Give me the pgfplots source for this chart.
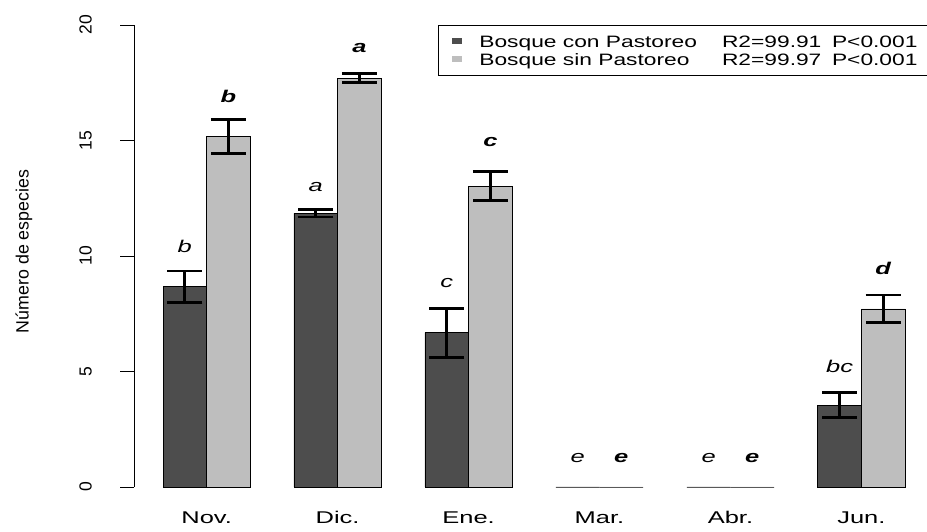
\documentclass[border=0pt]{standalone}
\usepackage{fontspec}
\setmainfont{Liberation Sans}[FakeStretch=1.5]
\newfontfamily\rotfont{Liberation Sans}
\newfontfamily\legfont{Liberation Sans}[FakeStretch=1.38]
\usepackage{pgfplots}
\pgfplotsset{compat=1.18}
\definecolor{dk}{HTML}{4D4D4D}
\definecolor{lt}{HTML}{BEBEBE}
\begin{document}
\begin{tikzpicture}
\path[use as bounding box] (0,0) rectangle (927pt,532pt);
\begin{axis}[
  at={(134pt,45pt)}, anchor=south west,
  scale only axis, width=793pt, height=462pt,
  xmin=0.3356, xmax=18.503, ymin=0, ymax=20,
  axis x line=none, axis y line*=left,
  ytick={0,5,10,15,20},
  tick align=outside, major tick length=14pt,
  y axis line style={line width=0.9pt, black},
  ytick style={line width=0.9pt, black},
  yticklabel style={rotate=90, anchor=south, inner sep=0pt, font=\rotfont\fontsize{17.5}{17.5}\selectfont, yshift=28pt},
  /pgf/number format/assume math mode=true,
  clip=false,
  legend cell align=left,
  legend image code/.code={\fill[#1, draw=none] (0pt,-3pt) rectangle (10pt,3pt);},
  legend style={at={(0.3837,1.0006)}, anchor=north west, draw=black, line width=0.8pt,
    inner xsep=13.4pt, inner ysep=10pt, row sep=5.1pt,
    font=\legfont\fontsize{16.5}{17.6}\selectfont,
    nodes={inner sep=0pt, text height=12.5pt, text depth=0pt},
    /tikz/every odd column/.style={column sep=17.3pt}},
  every axis plot/.append style={ybar, bar width=1, bar shift=0, draw=black, line width=0.7pt},
]
% Bosque con Pastoreo
\addplot[fill=dk,
  error bars/.cd, y dir=both, y explicit,
  error bar style={line width=2.7pt, black},
  error mark options={rotate=90, line width=2.7pt, black, mark size=17.5pt}]
  coordinates {(1.5,8.67) +- (0,0.68) (4.5,11.85) +- (0,0.16) (7.5,6.68) +- (0,1.06) (16.5,3.54) +- (0,0.54)};
% Bosque sin Pastoreo
\addplot[fill=lt,
  error bars/.cd, y dir=both, y explicit,
  error bar style={line width=2.7pt, black},
  error mark options={rotate=90, line width=2.7pt, black, mark size=17.5pt}]
  coordinates {(2.5,15.17) +- (0,0.73) (5.5,17.70) +- (0,0.20) (8.5,13.03) +- (0,0.62) (17.5,7.71) +- (0,0.60)};
\legend{\makebox[242.7pt][l]{Bosque con Pastoreo}\makebox[110pt][l]{R2=99.91}\makebox[100pt][l]{P<0.001},
        \makebox[242.7pt][l]{Bosque sin Pastoreo}\makebox[110pt][l]{R2=99.97}\makebox[100pt][l]{P<0.001}}
% zero-valued months (no error bars)
\addplot[fill=dk, forget plot] coordinates {(10.5,0) (13.5,0)};
\addplot[fill=lt, forget plot] coordinates {(11.5,0) (14.5,0)};
% significance letters
\begin{scope}[every node/.style={inner sep=0pt}]
\node[font=\itshape\fontsize{17}{17}\selectfont] at (axis cs:1.5,10.4) {b};
\node[font=\bfseries\itshape\fontsize{17}{17}\selectfont] at (axis cs:2.5,16.9) {b};
\node[font=\itshape\fontsize{17}{17}\selectfont] at (axis cs:4.5,13.0) {a};
\node[font=\bfseries\itshape\fontsize{17}{17}\selectfont] at (axis cs:5.5,19.0) {a};
\node[font=\itshape\fontsize{17}{17}\selectfont] at (axis cs:7.5,8.82) {c};
\node[font=\bfseries\itshape\fontsize{17}{17}\selectfont] at (axis cs:8.5,14.95) {c};
\node[font=\itshape\fontsize{17}{17}\selectfont] at (axis cs:10.5,1.24) {e};
\node[font=\bfseries\itshape\fontsize{17}{17}\selectfont] at (axis cs:11.5,1.24) {e};
\node[font=\itshape\fontsize{17}{17}\selectfont] at (axis cs:13.5,1.24) {e};
\node[font=\bfseries\itshape\fontsize{17}{17}\selectfont] at (axis cs:14.5,1.24) {e};
\node[font=\itshape\fontsize{17}{17}\selectfont] at (axis cs:16.5,5.2) {bc};
\node[font=\bfseries\itshape\fontsize{17}{17}\selectfont] at (axis cs:17.5,9.47) {d};
% month labels
\node[anchor=base, font=\fontsize{17}{17}\selectfont] at (axis cs:2,-1.57) {Nov.};
\node[anchor=base, font=\fontsize{17}{17}\selectfont] at (axis cs:5,-1.57) {Dic.};
\node[anchor=base, font=\fontsize{17}{17}\selectfont] at (axis cs:8,-1.57) {Ene.};
\node[anchor=base, font=\fontsize{17}{17}\selectfont] at (axis cs:11,-1.57) {Mar.};
\node[anchor=base, font=\fontsize{17}{17}\selectfont] at (axis cs:14,-1.57) {Abr.};
\node[anchor=base, font=\fontsize{17}{17}\selectfont] at (axis cs:17,-1.57) {Jun.};
\end{scope}
\end{axis}
\node[rotate=90, font=\rotfont\fontsize{17.8}{17.8}\selectfont] at (24pt,280.5pt) {Número de especies};
\end{tikzpicture}
\end{document}
